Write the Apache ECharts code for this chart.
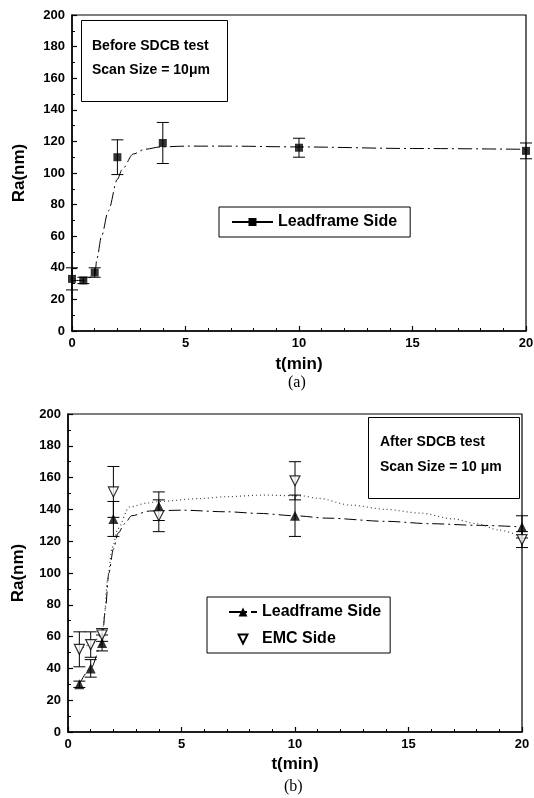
<!DOCTYPE html>
<html><head><meta charset="utf-8">
<script src="https://cdn.jsdelivr.net/npm/echarts/dist/echarts.min.js"></script>
<style>html,body{margin:0;padding:0;background:#fff;}
#a{position:absolute;left:0;top:0;width:534px;height:395px;}
#b{position:absolute;left:0;top:395px;width:534px;height:403px;}</style>
</head><body><div id="a"></div><div id="b"></div>
<script>
// ---- data (a): before SDCB test ----
const topTime = [0, 0.5, 1, 2, 4, 10, 20];
const topRa = [33, 32, 37, 110, 119, 116, 114];
const topErr = [7, 2, 3, 11, 13, 6, 5];
const topFitTime = [0, 0.5, 1.0, 1.1, 1.3, 1.6, 2.0, 2.2, 2.7, 3.2, 3.9, 5, 7, 10, 15, 20];
const topFitRa = [32, 32, 35, 46, 60, 76, 96, 102, 112, 115, 116.5, 117, 117, 116.5, 115.5, 115];

// ---- data (b): after SDCB test ----
const botTime = [0.5, 1, 1.5, 2, 4, 10, 20];
const leadRa = [30, 40, 56, 134, 142, 136, 129];
const leadErr = [2, 5.5, 5, 11, 9, 13, 7];
const emcRa = [52, 55, 61, 151, 136, 158, 121];
const emcErr = [11, 8, 4, 16, 10, 12, 5];
const leadFitTime = [0.5, 1.0, 1.5, 1.65, 1.8, 2.0, 2.2, 2.5, 2.8, 3.6, 5, 7, 8.4, 10, 11.4, 14, 16, 18, 20];
const leadFitRa = [30, 40, 56, 78, 100, 115, 125, 131, 136, 139, 139.5, 138.5, 137.5, 136, 134.5, 132.5, 131, 130, 129];
const emcFitTime = [0.5, 1.0, 1.5, 1.6, 1.73, 1.95, 2.2, 2.7, 3.5, 4, 5.8, 7, 8.6, 10.3, 11, 12.5, 14, 15.5, 17, 18, 19, 20];
const emcFitRa = [52, 55, 61, 72, 95, 116, 128, 141.5, 144, 145, 146.8, 148, 149, 148.5, 147, 142.6, 140, 137.7, 134, 131, 127, 122.6];

const xTicks = [0, 5, 10, 15, 20];
const yTicks = [0, 20, 40, 60, 80, 100, 120, 140, 160, 180, 200];

const F = '"Liberation Sans", Arial, sans-serif';
const zip = (a, b) => a.map((v, i) => [v, b[i]]);
const zip3 = (a, b, c) => a.map((v, i) => [v, b[i], c[i]]);

function errRender(params, api) {
  const x = api.value(0), y = api.value(1), e = api.value(2);
  const hi = api.coord([x, y + e]), lo = api.coord([x, y - e]);
  const w = 6;
  const s = { stroke: '#000', lineWidth: 1 };
  return { type: 'group', children: [
    { type: 'line', shape: { x1: hi[0], y1: hi[1], x2: lo[0], y2: lo[1] }, style: s },
    { type: 'line', shape: { x1: hi[0] - w, y1: hi[1], x2: hi[0] + w, y2: hi[1] }, style: s },
    { type: 'line', shape: { x1: lo[0] - w, y1: lo[1], x2: lo[0] + w, y2: lo[1] }, style: s }
  ]};
}

function xAxisCfg(gap) {
  return {
    type: 'value', min: xTicks[0], max: xTicks[xTicks.length - 1], interval: xTicks[1] - xTicks[0],
    name: 't(min)', nameLocation: 'middle', nameGap: gap,
    nameTextStyle: { fontSize: 17, fontWeight: 'bold', color: '#000', fontFamily: F },
    axisLine: { lineStyle: { color: '#000', width: 1.5 } },
    axisTick: { inside: true, length: 5, lineStyle: { color: '#000', width: 1.2 } },
    minorTick: { show: true, splitNumber: 5, length: 3, lineStyle: { color: '#000', width: 1 } },
    splitLine: { show: false }, minorSplitLine: { show: false },
    axisLabel: { color: '#000', fontSize: 13, fontWeight: 'bold', margin: 6, fontFamily: F }
  };
}
function yAxisCfg(gap) {
  return {
    type: 'value', min: yTicks[0], max: yTicks[yTicks.length - 1], interval: yTicks[1] - yTicks[0],
    name: 'Ra(nm)', nameLocation: 'middle', nameGap: gap, nameRotate: 90,
    nameTextStyle: { fontSize: 17, fontWeight: 'bold', color: '#000', fontFamily: F },
    axisLine: { lineStyle: { color: '#000', width: 1.5 } },
    axisTick: { inside: true, length: 5, lineStyle: { color: '#000', width: 1.2 } },
    minorTick: { show: true, splitNumber: 2, length: 3, lineStyle: { color: '#000', width: 1 } },
    splitLine: { show: false }, minorSplitLine: { show: false },
    axisLabel: { color: '#000', fontSize: 13, fontWeight: 'bold', margin: 7, fontFamily: F }
  };
}
const legendText = { fontSize: 16, fontWeight: 'bold', color: '#000', fontFamily: F };
const annoStyle = (t) => ({ text: t, fontSize: 14, fontWeight: 'bold', fill: '#000', fontFamily: F });

// ---- chart (a) ----
const ca = echarts.init(document.getElementById('a'), null, { renderer: 'canvas' });
ca.setOption({
  backgroundColor: '#fff',
  animation: false,
  grid: { left: 72, top: 15, width: 454, height: 316, show: true, borderColor: '#000', borderWidth: 1.2, outerBoundsMode: 'none', containLabel: false },
  xAxis: xAxisCfg(25),
  yAxis: yAxisCfg(44),
  legend: {
    data: [{ name: 'Leadframe Side', lineStyle: { type: 'solid' } }],
    left: 219, top: 207, orient: 'vertical',
    padding: [7, 13, 7, 12], itemWidth: 41, itemHeight: 10, itemGap: 5,
    borderColor: '#000', borderWidth: 1, borderRadius: 0, backgroundColor: '#fff',
    textStyle: legendText, selectedMode: false
  },
  graphic: [
    { type: 'rect', left: 81, top: 20, shape: { width: 146, height: 81 }, style: { fill: '#fff', stroke: '#000', lineWidth: 1 } },
    { type: 'text', left: 92, top: 39, style: annoStyle('Before SDCB test') },
    { type: 'text', left: 92, top: 63, style: annoStyle('Scan Size = 10\u03bcm') },
    { type: 'text', left: 288, top: 375, style: { text: '(a)', fontSize: 16, fill: '#000', fontFamily: '"Liberation Serif", "Times New Roman", serif' } }
  ],
  series: [
    { name: 'Leadframe Side', type: 'line', data: zip(topFitTime, topFitRa), smooth: 0.3, smoothMonotone: 'x',
      showSymbol: false, symbol: 'rect', symbolSize: 8, itemStyle: { color: '#000' },
      lineStyle: { color: '#000', width: 1, type: [14, 4, 2, 4] }, z: 2 },
    { name: 'lf-err', type: 'custom', renderItem: errRender, data: zip3(topTime, topRa, topErr), encode: { x: 0, y: 1 }, z: 3 },
    { name: 'lf-pts', type: 'scatter', data: zip(topTime, topRa), symbol: 'rect', symbolSize: 8, itemStyle: { color: '#000' }, z: 4 }
  ]
});

// ---- chart (b) ----
const downTri = 'path://M0,0L10,0L5,9Z';
const cb = echarts.init(document.getElementById('b'), null, { renderer: 'canvas' });
cb.setOption({
  backgroundColor: '#fff',
  animation: false,
  grid: { left: 68, top: 19, width: 454, height: 318, show: true, borderColor: '#000', borderWidth: 1.2, outerBoundsMode: 'none', containLabel: false },
  xAxis: xAxisCfg(24),
  yAxis: yAxisCfg(41),
  legend: {
    data: [{ name: 'Leadframe Side' }, { name: 'EMC Side', lineStyle: { opacity: 0 } }],
    left: 207, top: 202, orient: 'vertical',
    padding: [7, 9, 6, 21], itemWidth: 28, itemHeight: 11, itemGap: 11,
    borderColor: '#000', borderWidth: 1, borderRadius: 0, backgroundColor: '#fff',
    textStyle: legendText, selectedMode: false
  },
  graphic: [
    { type: 'rect', left: 368, top: 22, shape: { width: 151, height: 81 }, style: { fill: '#fff', stroke: '#000', lineWidth: 1 } },
    { type: 'text', left: 380, top: 40, style: annoStyle('After SDCB test') },
    { type: 'text', left: 380, top: 65, style: annoStyle('Scan Size = 10 \u03bcm') },
    { type: 'text', left: 284, top: 384, style: { text: '(b)', fontSize: 16, fill: '#000', fontFamily: '"Liberation Serif", "Times New Roman", serif' } }
  ],
  series: [
    { name: 'Leadframe Side', type: 'line', data: zip(leadFitTime, leadFitRa), smooth: 0.3, smoothMonotone: 'x',
      showSymbol: false, symbol: 'triangle', symbolSize: 10, itemStyle: { color: '#000' },
      lineStyle: { color: '#000', width: 1, type: [12, 4, 2, 4] }, z: 2 },
    { name: 'EMC Side', type: 'line', data: zip(emcFitTime, emcFitRa), smooth: 0.3, smoothMonotone: 'x',
      showSymbol: false, symbol: downTri, symbolSize: 10,
      itemStyle: { color: '#fff', borderColor: '#000', borderWidth: 1.2 },
      lineStyle: { color: '#444', width: 1.2, type: [1, 3] }, z: 2 },
    { name: 'lf-err', type: 'custom', renderItem: errRender, data: zip3(botTime, leadRa, leadErr), encode: { x: 0, y: 1 }, z: 3 },
    { name: 'emc-err', type: 'custom', renderItem: errRender, data: zip3(botTime, emcRa, emcErr), encode: { x: 0, y: 1 }, z: 3 },
    { name: 'lf-pts', type: 'scatter', data: zip(botTime, leadRa), symbol: 'triangle', symbolSize: 10, itemStyle: { color: '#000' }, z: 4 },
    { name: 'emc-pts', type: 'scatter', data: zip(botTime, emcRa), symbol: downTri, symbolSize: 10,
      itemStyle: { color: '#fff', borderColor: '#000', borderWidth: 1.2 }, z: 4 }
  ]
});
</script></body></html>
